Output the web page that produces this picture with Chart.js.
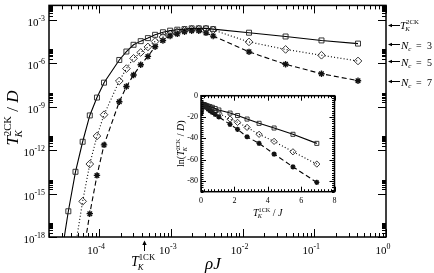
<!DOCTYPE html>
<html>
<head>
<meta charset="utf-8">
<script src="https://cdn.jsdelivr.net/npm/chart.js@4.4.1/dist/chart.umd.min.js"></script>
<style>
  body { margin: 0; background: #fff; }
  #wrap { position: relative; width: 434px; height: 273px; }
  #mainChart { position: absolute; left: 0; top: 0; }
  #insetChart { position: absolute; left: 160px; top: 85px; }
</style>
</head>
<body>
<div id="wrap">
  <canvas id="mainChart" width="434" height="273"></canvas>
  <canvas id="insetChart" width="185" height="135"></canvas>
</div>
<script>
// main panel: T_K^2CK / D against rho J
const rhoJ = [2.95e-5, 3.72e-5, 4.68e-5, 5.89e-5, 7.41e-5, 9.33e-5, 1.17e-4, 1.91e-4, 2.40e-4, 3.02e-4,
  3.80e-4, 4.79e-4, 6.03e-4, 7.76e-4, 9.77e-4, 1.23e-3, 1.55e-3, 1.95e-3, 2.45e-3, 3.09e-3,
  3.89e-3, 1.23e-2, 3.98e-2, 0.126, 0.407];
const tk2ckNc3 = [4e-20, 6.0e-17, 3.2e-14, 3.8e-12, 2.5e-10, 4.3e-9, 4.6e-8, 1.7e-6, 6.5e-6, 1.9e-5,
  3.4e-5, 5.5e-5, 9.3e-5, 1.4e-4, 1.8e-4, 2.1e-4, 2.3e-4, 2.6e-4, 2.6e-4, 2.6e-4,
  2.3e-4, 1.3e-4, 7.1e-5, 3.8e-5, 2.3e-5];
const tk2ckNc5 = [1.6e-28, 1.6e-23, 2.5e-19, 2.9e-16, 1.1e-13, 9.5e-12, 2.8e-10, 6.0e-8, 4.3e-7, 2.2e-6,
  5.6e-6, 1.35e-5, 3.2e-5, 6.5e-5, 1.07e-4, 1.5e-4, 1.9e-4, 2.2e-4, 2.3e-4, 2.3e-4,
  2.0e-4, 3.0e-5, 9.1e-6, 3.6e-6, 1.45e-6];
const tk2ckNc7 = [5e-36, 1e-29, 1.6e-24, 4e-20, 4.1e-17, 1.8e-14, 2.3e-12, 2.2e-9, 2.5e-8, 1.55e-7,
  7.9e-7, 3.0e-6, 1.4e-5, 3.8e-5, 7.6e-5, 1.07e-4, 1.5e-4, 1.75e-4, 1.75e-4, 1.26e-4,
  7.6e-5, 6.2e-6, 8.5e-7, 1.9e-7, 6.3e-8];
const xTickExp = [-4, -3, -2, -1, 0];
const yTickExp = [-18, -15, -12, -9, -6, -3];

// arrows on the right edge and under the x axis
const asymptoteValues = [4.6e-4, 2.0e-5, 1.4e-6, 6.0e-8];
const asymptoteNc = [null, "3", "5", "7"];
const tk1ckRhoJ = 4.2e-4;

// inset: ln(T_K^2CK / D) against T_K^1CK / J
const insetX = [6.94, 5.51, 4.38, 3.48, 2.76, 2.19, 1.74, 1.07, 0.85, 0.68, 0.54, 0.43, 0.34, 0.26,
  0.21, 0.17, 0.13, 0.105, 0.084, 0.066, 0.053, 0.017, 0.005, 0.0016, 0.0005];
const insetNc3 = [-44.7, -36.2, -30.3, -25.9, -21.9, -18.6, -16.3, -13.4, -12.0, -10.9, -10.3, -9.8, -9.3,
  -8.9, -8.6, -8.45, -8.36, -8.25, -8.25, -8.25, -8.36, -8.9, -9.55, -10.2, -10.7];
const insetNc5 = [-64.1, -52.6, -42.8, -36.2, -29.7, -25.0, -21.9, -16.6, -14.7, -13.0, -12.1, -11.2, -10.3,
  -9.65, -9.15, -8.8, -8.6, -8.45, -8.35, -8.35, -8.5, -10.4, -11.6, -12.5, -13.4];
const insetNc7 = [-81.3, -66.7, -54.7, -44.7, -38.5, -31.6, -26.9, -19.9, -17.5, -15.7, -14.0, -12.7, -11.1,
  -10.2, -9.5, -9.14, -8.82, -8.66, -8.66, -8.98, -9.5, -12.0, -14.0, -15.5, -16.6];
const insetXTicks = [0, 2, 4, 6, 8];
const insetYTicks = [0, -20, -40, -60, -80];

const SERIF = '"Liberation Serif", "DejaVu Serif", serif';

function pts(xs, ys) {
  return xs.map((x, i) => ({ x: x, y: ys[i] }));
}

// draws a run of text pieces; a piece with stack:true does not advance, the next one shares its x
function drawParts(ctx, parts, x, y, dryRun) {
  let cx = x;
  let stackW = 0;
  for (const p of parts) {
    ctx.font = (p.italic ? "italic " : "") + p.size + "px " + SERIF;
    const w = ctx.measureText(p.t).width;
    if (!dryRun) ctx.fillText(p.t, cx + (p.dx || 0), y + (p.dy || 0));
    if (p.stack) {
      stackW = w + (p.dx || 0);
    } else {
      cx += Math.max(w, stackW);
      stackW = 0;
    }
  }
  return cx - x;
}

function tkParts(sup, size) {
  const s = size * 0.62;
  return [
    { t: "T", size: size, italic: true },
    { t: "K", size: s, italic: true, dy: size * 0.25, dx: -size * 0.08, stack: true },
    { t: sup, size: s, dy: -size * 0.42 }
  ];
}

function drawPow(ctx, exp, x, y, size, align) {
  const parts = [{ t: "10", size: size }, { t: "-" + Math.abs(exp), size: size * 0.72, dy: -size * 0.45 }];
  if (exp === 0) parts[1].t = "0";
  const w = drawParts(ctx, parts, 0, 0, true);
  let x0 = x;
  if (align === "right") x0 = x - w;
  if (align === "center") x0 = x - w / 2;
  drawParts(ctx, parts, x0, y, false);
}

function tick(ctx, x1, y1, x2, y2) {
  ctx.beginPath();
  ctx.moveTo(x1, y1);
  ctx.lineTo(x2, y2);
  ctx.stroke();
}

const mainDecor = {
  id: "mainDecor",
  afterDraw(chart) {
    const { ctx, chartArea: a, scales: { x, y } } = chart;
    ctx.save();
    ctx.strokeStyle = "#000";
    ctx.fillStyle = "#000";
    ctx.lineWidth = 1;

    // x ticks, inward, bottom and top
    for (let e = -5; e <= 0; e++) {
      for (let m = 1; m <= 9; m++) {
        const v = m * Math.pow(10, e);
        if (v < x.min || v > x.max) continue;
        const px = Math.round(x.getPixelForValue(v)) + 0.5;
        const len = m === 1 ? 8 : 4;
        tick(ctx, px, a.bottom, px, a.bottom - len);
        tick(ctx, px, a.top, px, a.top + len);
      }
    }
    // y ticks: majors every third decade, minors inside the decade above each major
    for (const e of yTickExp) {
      for (let m = 1; m <= 9; m++) {
        const v = m * Math.pow(10, e);
        if (v < y.min || v > y.max) continue;
        const py = Math.round(y.getPixelForValue(v)) + 0.5;
        const len = m === 1 ? 8 : 4;
        tick(ctx, a.left, py, a.left + len, py);
        tick(ctx, a.right, py, a.right - len, py);
      }
    }
    for (let m = 2; m <= 9; m++) {
      const py = Math.round(y.getPixelForValue(m * 1e-3)) + 0.5;
      if (py < a.top) continue;
    }

    // tick labels
    ctx.textBaseline = "alphabetic";
    for (const e of xTickExp) {
      const px = x.getPixelForValue(Math.pow(10, e));
      drawPow(ctx, e, px - 3, 254, 11, "center");
    }
    for (const e of yTickExp) {
      const py = y.getPixelForValue(Math.pow(10, e));
      drawPow(ctx, e, 45, py + 6, 11, "right");
    }

    // frame
    ctx.lineWidth = 1.5;
    ctx.strokeRect(a.left, a.top, a.right - a.left, a.bottom - a.top);

    // y axis title
    ctx.save();
    const title = tkParts("2CK", 17).concat([{ t: " / ", size: 17 }, { t: "D", size: 17, italic: true }]);
    const tw = drawParts(ctx, title, 0, 0, true);
    ctx.translate(18, 118);
    ctx.rotate(-Math.PI / 2);
    drawParts(ctx, title, -tw / 2, 0, false);
    ctx.restore();

    // x axis title
    drawParts(ctx, [{ t: "\u03C1J", size: 17, italic: true }], 205, 269, false);

    // T_K^1CK arrow under the axis
    ctx.lineWidth = 1;
    const ax = Math.round(x.getPixelForValue(tk1ckRhoJ)) + 0.5;
    tick(ctx, ax, 251, ax, 243);
    ctx.beginPath();
    ctx.moveTo(ax, 240.5);
    ctx.lineTo(ax - 2.2, 245);
    ctx.lineTo(ax + 2.2, 245);
    ctx.closePath();
    ctx.fill();
    drawParts(ctx, tkParts("1CK", 14), 131, 266, false);

    // right side arrows and labels
    asymptoteValues.forEach((v, i) => {
      const py = Math.round(y.getPixelForValue(v)) + 0.5;
      const x0 = a.right + 2;
      tick(ctx, x0 + 3, py, x0 + 12, py);
      ctx.beginPath();
      ctx.moveTo(x0, py);
      ctx.lineTo(x0 + 4, py - 1.8);
      ctx.lineTo(x0 + 4, py + 1.8);
      ctx.closePath();
      ctx.fill();
      if (asymptoteNc[i] === null) {
        drawParts(ctx, tkParts("2CK", 11), 400, py + 3, false);
      } else {
        drawParts(ctx, [
          { t: "N", size: 11, italic: true },
          { t: "c", size: 7, italic: true, dy: 2.5 }
        ], 401, py + 4, false);
        drawParts(ctx, [{ t: "=", size: 10 }], 416, py + 4, false);
        drawParts(ctx, [{ t: asymptoteNc[i], size: 10 }], 427, py + 4, false);
      }
    });
    ctx.restore();
  }
};

const insetDecor = {
  id: "insetDecor",
  afterDraw(chart) {
    const { ctx, chartArea: a, scales: { x, y } } = chart;
    ctx.save();
    ctx.strokeStyle = "#000";
    ctx.fillStyle = "#000";
    ctx.lineWidth = 1;
    for (let v = 0; v <= 8.001; v += 0.2) {
      const px = Math.round(x.getPixelForValue(v)) + 0.5;
      const major = Math.abs(v / 2 - Math.round(v / 2)) < 0.01;
      const len = major ? 5 : 2.5;
      tick(ctx, px, a.bottom, px, a.bottom - len);
      tick(ctx, px, a.top, px, a.top + len);
    }
    for (let v = -90; v <= 0.001; v += 2) {
      const py = Math.round(y.getPixelForValue(v)) + 0.5;
      const major = Math.abs(v % 20) < 0.01;
      const len = major ? 5 : 2.5;
      tick(ctx, a.left, py, a.left + len, py);
      tick(ctx, a.right, py, a.right - len, py);
    }
    ctx.font = "8px " + SERIF;
    ctx.textAlign = "center";
    ctx.textBaseline = "middle";
    for (const v of insetXTicks) {
      ctx.fillText(String(v), x.getPixelForValue(v), a.bottom + 9);
    }
    ctx.textAlign = "right";
    for (const v of insetYTicks) {
      ctx.fillText(String(v), a.left - 3, y.getPixelForValue(v));
    }
    ctx.textAlign = "left";
    ctx.textBaseline = "alphabetic";
    ctx.lineWidth = 1.5;
    ctx.strokeRect(a.left, a.top, a.right - a.left, a.bottom - a.top);

    const xt = tkParts("1CK", 10).concat([{ t: " / ", size: 10 }, { t: "J", size: 10, italic: true }]);
    const xw = drawParts(ctx, xt, 0, 0, true);
    drawParts(ctx, xt, (a.left + a.right) / 2 - xw / 2, a.bottom + 24, false);

    const yt = [{ t: "ln(", size: 10 }].concat(tkParts("2CK", 10),
      [{ t: " / ", size: 10 }, { t: "D", size: 10, italic: true }, { t: ")", size: 10 }]);
    const yw = drawParts(ctx, yt, 0, 0, true);
    ctx.translate(a.left - 17, (a.top + a.bottom) / 2);
    ctx.rotate(-Math.PI / 2);
    drawParts(ctx, yt, -yw / 2, 0, false);
    ctx.restore();
  }
};

function seriesSets(xs, a, b, c, r) {
  return [
    {
      label: "Nc = 3", data: pts(xs, a), borderColor: "#000", borderWidth: 1.1,
      pointStyle: "rect", pointRadius: r * 1.1, pointBorderColor: "#222",
      pointBackgroundColor: "rgba(0,0,0,0)", pointBorderWidth: 0.9
    },
    {
      label: "Nc = 5", data: pts(xs, b), borderColor: "#000", borderWidth: 1.1,
      borderDash: [1, 2.2], pointStyle: "rectRot", pointRadius: r * 1.2, pointBorderColor: "#222",
      pointBackgroundColor: "rgba(0,0,0,0)", pointBorderWidth: 0.9
    },
    {
      label: "Nc = 7", data: pts(xs, c), borderColor: "#000", borderWidth: 1.1,
      borderDash: [5, 3], pointStyle: "star", pointRadius: r, pointBorderColor: "#111",
      pointBackgroundColor: "#111", pointBorderWidth: 1.4
    }
  ];
}

const mainChart = new Chart(document.getElementById("mainChart"), {
  type: "line",
  data: { datasets: seriesSets(rhoJ, tk2ckNc3, tk2ckNc5, tk2ckNc7, 3.2) },
  options: {
    responsive: false,
    animation: false,
    devicePixelRatio: 1,
    layout: { padding: { left: 49, right: 48, top: 1, bottom: 36 } },
    plugins: { legend: { display: false }, tooltip: { enabled: false } },
    elements: { line: { tension: 0 } },
    scales: {
      x: { type: "logarithmic", display: false, min: 2e-5, max: 1 },
      y: { type: "logarithmic", display: false, min: 1e-18, max: 1e-2 }
    }
  },
  plugins: [mainDecor]
});

const insetChart = new Chart(document.getElementById("insetChart"), {
  type: "line",
  data: { datasets: seriesSets(insetX, insetNc3, insetNc5, insetNc7, 2.6) },
  options: {
    responsive: false,
    animation: false,
    devicePixelRatio: 1,
    layout: { padding: { left: 41, right: 10.5, top: 10.7, bottom: 28.3 } },
    plugins: { legend: { display: false }, tooltip: { enabled: false } },
    elements: { line: { tension: 0 } },
    scales: {
      x: { type: "linear", display: false, min: 0, max: 8 },
      y: { type: "linear", display: false, min: -90, max: 0 }
    }
  },
  plugins: [insetDecor]
});
</script>
</body>
</html>
